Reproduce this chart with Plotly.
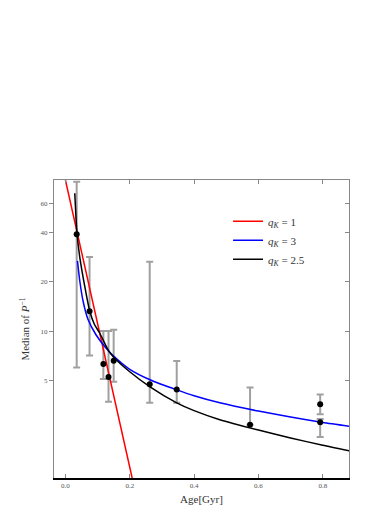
#!/usr/bin/env python
# coding: utf-8

import numpy as np
import plotly.graph_objs as go

# observed medians with error ranges
age = [0.035, 0.075, 0.118, 0.134, 0.150, 0.262, 0.346, 0.574, 0.792, 0.792]
median = [39.0, 13.2, 6.3, 5.24, 6.6, 4.74, 4.41, 2.68, 3.58, 2.78]
upper = [81.5, 28.3, 10.0, 10.0, 10.2, 26.5, 6.56, 4.53, 4.11, 2.91]
lower = [6.0, 7.1, 5.1, 3.7, 4.9, 3.65, 3.65, 2.68, 3.11, 2.26]

# model curves
red_x = [0.0, 0.2075]
red_y = [83.5, 1.27]

blue_x = [0.0374, 0.045, 0.055, 0.070, 0.095, 0.128, 0.148, 0.20, 0.263,
          0.346, 0.40, 0.48, 0.60, 0.70, 0.80, 0.882]
blue_y = [26.8, 20.0, 15.2, 11.8, 9.5, 7.8, 7.1, 5.85, 5.05,
          4.38, 4.03, 3.65, 3.25, 2.99, 2.77, 2.63]

black_x = [0.029, 0.036, 0.0445, 0.060, 0.0757, 0.09, 0.107, 0.133, 0.148, 0.20,
           0.263, 0.346, 0.40, 0.48, 0.60, 0.70, 0.80, 0.882]
black_y = [69.3, 39.4, 28.4, 18.8, 13.2, 11.0, 9.7, 7.66, 7.0, 5.65,
           4.57, 3.65, 3.27, 2.88, 2.49, 2.23, 2.01, 1.86]

x_ticks = [0.0, 0.2, 0.4, 0.6, 0.8]
y_ticks = [5, 10, 20, 40, 60]

SERIF = "Liberation Serif, Times New Roman, serif"
GREY = "#a0a0a0"

x_range = [-0.0355, 0.8816]
y_range = [np.log10(1.27), np.log10(83.5)]

med = np.array(median)
err_plus = np.array(upper) - med
err_minus = med - np.array(lower)

fig = go.Figure()

# error bars underneath everything
fig.add_trace(go.Scatter(
    x=age, y=median, mode='markers',
    marker=dict(size=1, color='rgba(0,0,0,0)'),
    error_y=dict(type='data', symmetric=False, array=err_plus, arrayminus=err_minus,
                 color=GREY, thickness=2, width=3.5),
    showlegend=False, hoverinfo='skip'
))

fig.add_trace(go.Scatter(x=red_x, y=red_y, mode='lines', name='<i>q</i><sub><i>K</i></sub> = 1',
                         line=dict(color='#ff0000', width=1.5)))
fig.add_trace(go.Scatter(x=blue_x, y=blue_y, mode='lines', name='<i>q</i><sub><i>K</i></sub> = 3',
                         line=dict(color='#0000ff', width=1.5, shape='spline', smoothing=0.6)))
fig.add_trace(go.Scatter(x=black_x, y=black_y, mode='lines', name='<i>q</i><sub><i>K</i></sub> = 2.5',
                         line=dict(color='#000000', width=1.5, shape='spline', smoothing=0.6)))

fig.add_trace(go.Scatter(
    x=age, y=median, mode='markers',
    marker=dict(size=6, color='black'),
    showlegend=False
))

# dummy trace so the mirrored (top/right) axes get drawn
fig.add_trace(go.Scatter(x=[None], y=[None], xaxis='x2', yaxis='y2', showlegend=False, hoverinfo='skip'))

# page body has an 8px margin, so margins are shifted by that much
fig.update_layout(
    width=374, height=529,
    margin=dict(l=46, r=33, t=172, b=59),
    paper_bgcolor='white', plot_bgcolor='white',
    font=dict(family=SERIF, size=11, color='#333333'),
    xaxis=dict(
        range=x_range, tickvals=x_ticks, ticktext=['%.1f' % v for v in x_ticks],
        ticks='inside', ticklen=4, tickcolor='#888888',
        showline=True, linecolor='black', linewidth=2,
        showgrid=False, zeroline=False,
        tickfont=dict(size=7, color='#555555'),
        title=dict(text='Age[Gyr]', font=dict(size=11, color='#333333'), standoff=6),
    ),
    yaxis=dict(
        type='log', range=y_range, tickvals=y_ticks, ticktext=[str(v) for v in y_ticks],
        ticks='outside', ticklen=4, tickcolor='#888888',
        showline=True, linecolor='#888888', linewidth=1,
        showgrid=False, zeroline=False,
        tickfont=dict(size=7, color='#555555'),
        title=dict(text='Median of <i>P</i><sup>\u22121</sup>', font=dict(size=11, color='#333333'),
                   standoff=8),
    ),
    xaxis2=dict(
        overlaying='x', side='top', range=x_range, tickvals=x_ticks,
        ticks='inside', ticklen=4, tickcolor='#888888', showticklabels=False,
        showline=True, linecolor='#888888', linewidth=1,
        showgrid=False, zeroline=False,
    ),
    yaxis2=dict(
        overlaying='y', side='right', type='log', range=y_range, tickvals=y_ticks,
        ticks='inside', ticklen=4, tickcolor='#888888', showticklabels=False,
        showline=True, linecolor='#888888', linewidth=1,
        showgrid=False, zeroline=False,
    ),
    legend=dict(
        x=0.59, y=0.91, xanchor='left', yanchor='top',
        bgcolor='rgba(0,0,0,0)', borderwidth=0,
        font=dict(family=SERIF, size=11, color='#333333'),
    ),
)

fig.write_html("out.html")
